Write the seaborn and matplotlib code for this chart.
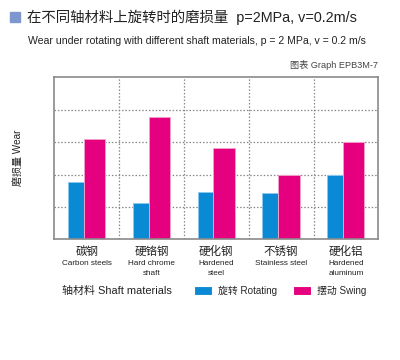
import matplotlib
matplotlib.use("Agg")
import matplotlib.pyplot as plt
import seaborn as sns
import pandas as pd
from matplotlib import font_manager
from matplotlib.ticker import FixedLocator
from matplotlib.patches import Rectangle

# ---- data ----
cats_cn = ["碳钢", "硬铬钢", "硬化钢", "不锈钢", "硬化铝"]
cats_en = ["Carbon steels", "Hard chrome\nshaft", "Hardened\nsteel", "Stainless steel", "Hardened\naluminum"]
series = ["旋转 Rotating", "摆动 Swing"]
rotating = [1.77, 1.13, 1.45, 1.42, 2.00]
swing = [3.10, 3.78, 2.81, 1.98, 3.01]

title_cn = "在不同轴材料上旋转时的磨损量  p=2MPa, v=0.2m/s"
subtitle = "Wear under rotating with different shaft materials, p = 2 MPa, v = 0.2 m/s"
graph_id = "图表 Graph EPB3M-7"
ylabel = "磨损量 Wear"
xtitle = "轴材料 Shaft materials"

colors = ["#0a8ad4", "#e5007f"]
edges = ["#8cc8ee", "#f2a0c8"]

df = pd.DataFrame({
    "cat": cats_cn * 2,
    "series": [series[0]] * 5 + [series[1]] * 5,
    "val": rotating + swing,
})

sns.set_theme(style="white")
CJK = "Noto Sans CJK SC"
names = {f.name for f in font_manager.fontManager.ttflist}
if "Liberation Sans Narrow" in names:
    NARROW = ["Liberation Sans Narrow", CJK, "DejaVu Sans"]
    k = 1.19
elif "Liberation Sans" in names:
    NARROW = ["Liberation Sans", CJK, "DejaVu Sans"]
    k = 1.0
else:
    NARROW = ["DejaVu Sans", CJK]
    k = 0.92
REG = ["Liberation Sans", CJK, "DejaVu Sans"] if "Liberation Sans" in names else ["DejaVu Sans", CJK]
plt.rcParams["font.family"] = NARROW

fig = plt.figure(figsize=(4, 3.6), dpi=100)
ax = fig.add_axes([54.3 / 400, 1 - 239.3 / 360, 324 / 400, 162 / 360])

sns.barplot(data=df, x="cat", y="val", hue="series", palette=colors,
            order=cats_cn, hue_order=series, ax=ax, width=0.6,
            saturation=1, linewidth=0.8)

bars = [p for p in ax.patches if isinstance(p, Rectangle)][:10]
for i, p in enumerate(bars):
    s = 0 if i < 5 else 1
    c = i % 5
    if s == 0:
        p.set_x(c - 0.29)
        p.set_width(0.245)
    else:
        p.set_x(c - 0.045)
        p.set_width(0.33)
    p.set_edgecolor(edges[s])
    p.set_linewidth(0.7)

ax.set_xlim(-0.5, 4.5)
ax.set_ylim(0, 5)
ax.set_xlabel("")
ax.set_ylabel("")
ax.yaxis.set_major_locator(FixedLocator([1, 2, 3, 4]))
ax.set_yticklabels([])
ax.xaxis.set_minor_locator(FixedLocator([0.5, 1.5, 2.5, 3.5]))
ax.set_xticks(range(5))
ax.set_xticklabels([])
ax.tick_params(axis="both", which="both", length=0)
ax.grid(False)
ax.yaxis.grid(True, which="major", linestyle=(0, (1.2, 1.5)), color="#888888", linewidth=0.9)
ax.xaxis.grid(True, which="minor", linestyle=(0, (1.2, 1.5)), color="#888888", linewidth=0.9)
ax.set_axisbelow(True)
for sp in ax.spines.values():
    sp.set_color("#8a8a8a")
    sp.set_linewidth(1.2)

# category labels
trans = ax.get_xaxis_transform()
for i, (cn, en) in enumerate(zip(cats_cn, cats_en)):
    ax.text(i, -0.035, cn, transform=trans, ha="center", va="top",
            fontsize=8.3, family=[CJK], color="#222222")
    ax.text(i, -0.125, en, transform=trans, ha="center", va="top",
            fontsize=5.9 * k, family=NARROW, color="#222222", linespacing=1.7)

# legend
leg = ax.get_legend()
handles = leg.legend_handles
leg.remove()
fig.legend(handles, series, loc="center left",
           bbox_to_anchor=(194 / 400, 1 - 291 / 360), ncol=2, frameon=False,
           prop={"family": NARROW, "size": 7.1 * k}, borderpad=0, borderaxespad=0,
           handlelength=1.85, handleheight=1.05, handletextpad=0.6,
           columnspacing=1.55)

fig.text(62 / 400, 1 - 291 / 360, xtitle, ha="left", va="center",
         fontsize=7.9 * k, family=NARROW, color="#222222")

# titles
fig.patches.append(Rectangle((10 / 400, 1 - 22 / 360), 10 / 400, 10 / 360,
                             transform=fig.transFigure, color="#7f97cf",
                             figure=fig))
fig.text(27 / 400, 1 - 17 / 360, title_cn, ha="left", va="center",
         fontsize=10.4, family=REG, color="#222222")
fig.text(28 / 400, 1 - 41 / 360, subtitle, ha="left", va="center",
         fontsize=7.6 * k, family=NARROW, color="#222222")
fig.text(378 / 400, 1 - 65 / 360, graph_id, ha="right", va="center",
         fontsize=6.6 * k, family=NARROW, color="#444444")
fig.text(18 / 400, 1 - 158 / 360, ylabel, ha="center", va="center",
         rotation=90, fontsize=7.2 * k, family=NARROW, color="#222222")

fig.savefig("out.png", dpi=100, facecolor="white")
